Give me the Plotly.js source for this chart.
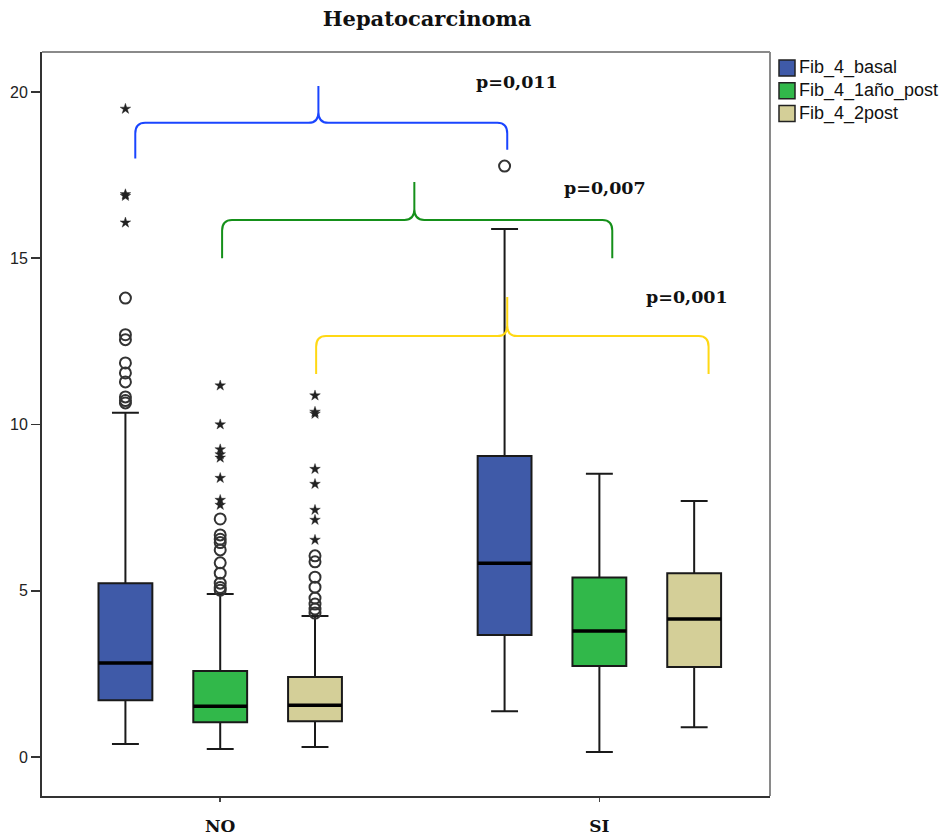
<!DOCTYPE html>
<html>
<head>
<meta charset="utf-8">
<script src="https://cdn.plot.ly/plotly-3.0.1.min.js"></script>
<style>
  html, body { margin: 0; padding: 0; background: #fff; }
  #chart { width: 944px; height: 838px; }
</style>
</head>
<body>
<div id="chart"></div>
<script>
// Groups on the x axis and the three Fib-4 measurements per group
const groups = ['NO', 'SI'];
const seriesNames = ['Fib_4_basal', 'Fib_4_1año_post', 'Fib_4_2post'];
const seriesColors = ['#3f5aa8', '#31b84a', '#d4cf98'];

// Box statistics per series: [NO, SI]
const lowerFence = [[0.39, 1.38], [0.24, 0.15], [0.30, 0.90]];
const q1Values   = [[1.71, 3.67], [1.05, 2.74], [1.08, 2.71]];
const medians    = [[2.83, 5.83], [1.53, 3.79], [1.56, 4.15]];
const q3Values   = [[5.23, 9.05], [2.59, 5.40], [2.41, 5.53]];
const upperFence = [[10.35, 15.88], [4.90, 8.52], [4.24, 7.70]];

// Outliers (circles) and extreme values (stars) per series: [NO, SI]
const outliers = [
  [[10.65, 10.72, 10.83, 11.28, 11.55, 11.85, 12.55, 12.7, 13.8], [17.77]],
  [[5.02, 5.1, 5.23, 5.53, 5.84, 6.23, 6.45, 6.55, 6.68, 7.16], []],
  [[4.33, 4.45, 4.6, 4.78, 5.11, 5.41, 5.87, 6.05], []]
];
const extremes = [
  [[16.07, 16.87, 16.92, 19.49], []],
  [[7.58, 7.73, 8.39, 9.0, 9.1, 9.25, 10.0, 11.17], []],
  [[6.53, 7.13, 7.43, 8.21, 8.66, 10.32, 10.38, 10.87], []]
];

// Significance brackets: left/right ends, peak position, levels and p-values
const bracketLabels = ['p=0,011', 'p=0,007', 'p=0,001'];
const bracketColors = ['#1a45ff', '#15901a', '#ffd814'];
const bracketLeft   = [-0.224, 0.005, 0.253];
const bracketRight  = [0.757, 1.034, 1.288];
const bracketPeakX  = [0.259, 0.512, 0.757];
const bracketBottomL = [18.0, 15.0, 11.52];
const bracketBottomR = [18.26, 15.0, 11.52];
const bracketLevel  = [19.07, 16.15, 12.66];
const bracketPeakY  = [20.18, 17.29, 13.83];
const labelX = [0.784, 1.016, 1.232];
const labelY = [20.3, 17.11, 13.83];

const groupPos = [0, 1];
const seriesOffset = [-0.25, 0, 0.25];
const boxWidth = 0.142;

// Plot area in pixels (used for the legend placed beside the plot)
const M = { l: 42, r: 174, t: 52, b: 42 };
const W = 944, H = 838;
const plotW = W - M.l - M.r, plotH = H - M.t - M.b;
const px2x = p => (p - M.l) / plotW;
const py2y = p => (H - M.b - p) / plotH;

const traces = [];

seriesNames.forEach((name, s) => {
  traces.push({
    type: 'box',
    name: name,
    x: groupPos.map(g => g + seriesOffset[s]),
    lowerfence: lowerFence[s],
    q1: q1Values[s],
    median: medians[s],
    q3: q3Values[s],
    upperfence: upperFence[s],
    width: boxWidth,
    whiskerwidth: 0.5,
    boxpoints: false,
    fillcolor: seriesColors[s],
    line: { color: '#1a1a1a', width: 2 },
    showlegend: false,
    hoverinfo: 'skip'
  });
});

// Thick median bars
const medX = [], medY = [];
seriesNames.forEach((_, s) => {
  groupPos.forEach((g, gi) => {
    const c = g + seriesOffset[s];
    medX.push(c - boxWidth / 2, c + boxWidth / 2, null);
    medY.push(medians[s][gi], medians[s][gi], null);
  });
});
traces.push({
  type: 'scatter', mode: 'lines', x: medX, y: medY,
  line: { color: '#000', width: 3.5 }, showlegend: false, hoverinfo: 'skip'
});

// Outlier markers
function pointsOf(table) {
  const px = [], py = [];
  table.forEach((perGroup, s) => {
    perGroup.forEach((vals, gi) => {
      vals.forEach(v => { px.push(groupPos[gi] + seriesOffset[s]); py.push(v); });
    });
  });
  return { px, py };
}
const circ = pointsOf(outliers);
traces.push({
  type: 'scatter', mode: 'markers', x: circ.px, y: circ.py,
  marker: { symbol: 'circle-open', size: 11, color: '#333', line: { width: 2, color: '#333' } },
  showlegend: false, hoverinfo: 'skip'
});
const star = pointsOf(extremes);
traces.push({
  type: 'scatter', mode: 'markers', x: star.px, y: star.py,
  marker: { symbol: 'star', size: 8, color: '#222', line: { width: 0.4, color: '#222' } },
  showlegend: false, hoverinfo: 'skip'
});

// Curly-brace bracket paths in data units
const rx = 0.026, ry = 0.32;
const shapes = [];
bracketLabels.forEach((_, i) => {
  const xl = bracketLeft[i], xr = bracketRight[i], xm = bracketPeakX[i];
  const yl = bracketBottomL[i], yr = bracketBottomR[i], yh = bracketLevel[i], yp = bracketPeakY[i];
  const path =
    `M ${xl} ${yl} L ${xl} ${yh - ry} Q ${xl} ${yh} ${xl + rx} ${yh} ` +
    `L ${xm - rx} ${yh} Q ${xm} ${yh} ${xm} ${yh + ry} L ${xm} ${yp} ` +
    `M ${xm} ${yp} L ${xm} ${yh + ry} Q ${xm} ${yh} ${xm + rx} ${yh} ` +
    `L ${xr - rx} ${yh} Q ${xr} ${yh} ${xr} ${yh - ry} L ${xr} ${yr}`;
  shapes.push({
    type: 'path', xref: 'x', yref: 'y', path: path,
    line: { color: bracketColors[i], width: 2 }, layer: 'above'
  });
});
// Light frame on top and right
shapes.push({ type: 'line', xref: 'paper', yref: 'paper', x0: 0, x1: 1, y0: 1, y1: 1, line: { color: '#8a8a8a', width: 2 } });
shapes.push({ type: 'line', xref: 'paper', yref: 'paper', x0: 1, x1: 1, y0: 0, y1: 1, line: { color: '#8a8a8a', width: 2 } });

const annotations = bracketLabels.map((t, i) => ({
  x: labelX[i], y: labelY[i], xref: 'x', yref: 'y',
  text: '<b>' + t + '</b>', showarrow: false,
  font: { family: 'DejaVu Serif', size: 17.5, color: '#111' }
}));

// Legend beside the plot: swatches and names
const legLeft = 779, legTop = 60, legStep = 22.7, legBox = 16;
seriesNames.forEach((name, s) => {
  const top = legTop + s * legStep;
  shapes.push({
    type: 'rect', xref: 'paper', yref: 'paper',
    x0: px2x(legLeft), x1: px2x(legLeft + legBox),
    y0: py2y(top + legBox), y1: py2y(top),
    fillcolor: seriesColors[s], line: { color: '#222', width: 1.5 }
  });
  annotations.push({
    xref: 'paper', yref: 'paper', x: px2x(legLeft + legBox + 2), y: py2y(top + legBox / 2),
    xanchor: 'left', yanchor: 'middle', showarrow: false, text: name,
    font: { family: 'Liberation Sans', size: 18, color: '#111' }
  });
});

const layout = {
  width: W, height: H,
  paper_bgcolor: '#fff', plot_bgcolor: '#fff',
  margin: M,
  title: {
    text: '<b>Hepatocarcinoma</b>',
    xref: 'container', yref: 'container', x: 427 / W, y: 1 - 19 / H,
    xanchor: 'center', yanchor: 'middle',
    font: { family: 'DejaVu Serif', size: 21, color: '#111' }
  },
  boxmode: 'overlay',
  showlegend: false,
  xaxis: {
    range: [-0.47, 1.45], tickvals: groupPos,
    ticktext: groups.map(g => '<b>' + g + '</b>'),
    ticks: 'outside', ticklen: 4, tickcolor: '#444', tickwidth: 1.5,
    ticklabelstandoff: 10,
    showline: true, linecolor: '#333', linewidth: 2,
    showgrid: false, zeroline: false,
    tickfont: { family: 'DejaVu Serif', size: 17, color: '#111' }
  },
  yaxis: {
    range: [-1.17, 21.2], tickvals: [0, 5, 10, 15, 20],
    ticks: 'outside', ticklen: 9, tickcolor: '#333', tickwidth: 1.5,
    showline: true, linecolor: '#333', linewidth: 2,
    showgrid: false, zeroline: false,
    tickfont: { family: 'Liberation Sans', size: 16, color: '#222' }
  },
  shapes: shapes,
  annotations: annotations
};

Plotly.newPlot('chart', traces, layout, { displayModeBar: false, staticPlot: true });
</script>
</body>
</html>
